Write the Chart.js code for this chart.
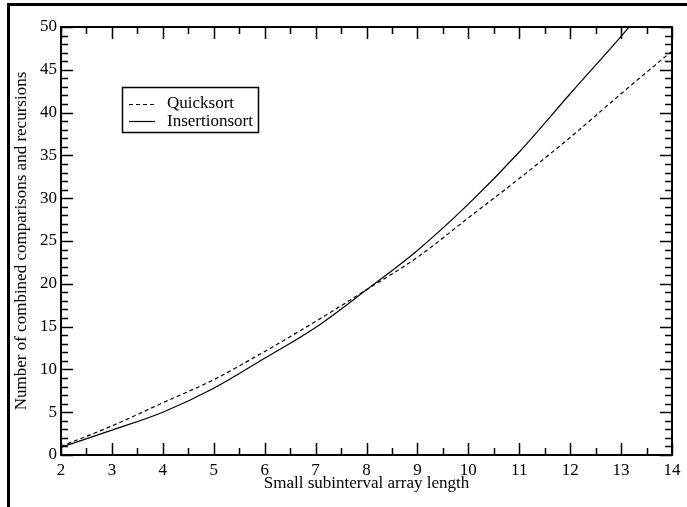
<!DOCTYPE html>
<html>
<head>
<meta charset="utf-8">
<script src="https://cdn.jsdelivr.net/npm/chart.js@4/dist/chart.umd.min.js"></script>
<style>
  html, body { margin: 0; padding: 0; background: #fff; overflow: hidden; }
  #wrap { position: relative; width: 687px; height: 507px; }
  #frame { position: absolute; left: 7px; top: 3px; width: 700px; height: 520px;
           border: 3px solid #000; pointer-events: none; }
</style>
</head>
<body>
<div id="wrap">
  <canvas id="myChart" width="687" height="507"></canvas>
  <div id="frame"></div>
</div>
<script>
// subinterval array length (x values)
const lengths = [2, 3, 4, 5, 6, 7, 8, 9, 10, 11, 12, 13, 14];
// combined comparisons and recursions
const quicksort     = [1.0, 3.4, 6.1, 8.8, 12.1, 15.6, 19.3, 23.1, 27.7, 32.3, 37.1, 42.2, 47.2];
const insertionsort = [0.9, 2.9, 5.0, 7.8, 11.3, 14.9, 19.3, 23.9, 29.3, 35.4, 42.2, 48.9, 56.0];
const seriesNames = ['Quicksort', 'Insertionsort'];
const yTicks = [0, 5, 10, 15, 20, 25, 30, 35, 40, 45, 50];

Chart.defaults.font.family = '"Liberation Serif", "Times New Roman", serif';
Chart.defaults.color = '#000';

// box around the plot with inward ticks on all four sides
const frameTicks = {
    id: 'frameTicks',
    afterDatasetsDraw(chart) {
        const {ctx, chartArea: a, scales: {x, y}} = chart;
        ctx.save();
        ctx.strokeStyle = '#000';
        ctx.lineWidth = 2;
        ctx.strokeRect(a.left, a.top, a.right - a.left, a.bottom - a.top);
        ctx.lineWidth = 1.5;
        ctx.beginPath();
        for (let v = x.min; v <= x.max + 1e-9; v += 0.5) {
            const px = Math.round(x.getPixelForValue(v)) + 0.5;
            const len = Number.isInteger(v) ? 12 : 7;
            ctx.moveTo(px, a.bottom); ctx.lineTo(px, a.bottom - len);
            ctx.moveTo(px, a.top); ctx.lineTo(px, a.top + len);
        }
        for (let v = y.min; v <= y.max; v += 1) {
            const py = Math.round(y.getPixelForValue(v)) + 0.5;
            const len = v % 5 === 0 ? 12 : 7;
            ctx.moveTo(a.left, py); ctx.lineTo(a.left + len, py);
            ctx.moveTo(a.right, py); ctx.lineTo(a.right - len, py);
        }
        ctx.stroke();
        ctx.restore();
    }
};

// legend box inside the plot, upper left
const boxLegend = {
    id: 'boxLegend',
    afterDraw(chart) {
        const ctx = chart.ctx;
        ctx.save();
        ctx.strokeStyle = '#000';
        ctx.lineWidth = 1.5;
        ctx.strokeRect(122.5, 87.5, 136, 45);
        ctx.font = '17px "Liberation Serif", serif';
        ctx.fillStyle = '#000';
        ctx.textBaseline = 'alphabetic';
        chart.data.datasets.forEach((ds, i) => {
            const ly = 104.5 + i * 17;
            ctx.lineWidth = 1.2;
            ctx.setLineDash(ds.borderDash || []);
            ctx.beginPath();
            ctx.moveTo(129, ly); ctx.lineTo(155, ly);
            ctx.stroke();
            ctx.setLineDash([]);
            ctx.fillText(ds.label, 167, 108 + i * 18);
        });
        ctx.restore();
    }
};

const ctx = document.getElementById('myChart');
const myChart = new Chart(ctx, {
    type: 'line',
    data: {
        datasets: [
            {
                label: seriesNames[0],
                data: lengths.map((v, i) => ({x: v, y: quicksort[i]})),
                borderColor: '#000',
                borderWidth: 1.2,
                borderDash: [4, 3],
                pointRadius: 0,
                cubicInterpolationMode: 'monotone'
            },
            {
                label: seriesNames[1],
                data: lengths.map((v, i) => ({x: v, y: insertionsort[i]})),
                borderColor: '#000',
                borderWidth: 1.2,
                pointRadius: 0,
                cubicInterpolationMode: 'monotone'
            }
        ]
    },
    options: {
        responsive: false,
        animation: false,
        layout: { padding: { top: 27, right: 15, left: 0, bottom: 0 } },
        scales: {
            x: {
                type: 'linear',
                min: 2,
                max: 14,
                grid: { display: false, drawTicks: false },
                border: { display: false },
                ticks: { stepSize: 1, padding: 5, font: { size: 17 } },
                title: {
                    display: true,
                    text: 'Small subinterval array length',
                    font: { size: 17 },
                    padding: { top: 0, bottom: 13 }
                },
                afterFit: s => { s.height = 52; }
            },
            y: {
                min: 0,
                max: 50,
                grid: { display: false, drawTicks: false },
                border: { display: false },
                afterBuildTicks: s => { s.ticks = yTicks.map(v => ({value: v})); },
                ticks: { padding: 4, font: { size: 17 } },
                title: {
                    display: true,
                    text: 'Number of combined comparisons and recursions',
                    font: { size: 17 },
                    padding: { top: 11, bottom: 0 }
                },
                afterFit: s => { s.width = 61; }
            }
        },
        plugins: {
            legend: { display: false },
            tooltip: { enabled: false }
        }
    },
    plugins: [frameTicks, boxLegend]
});
</script>
</body>
</html>
